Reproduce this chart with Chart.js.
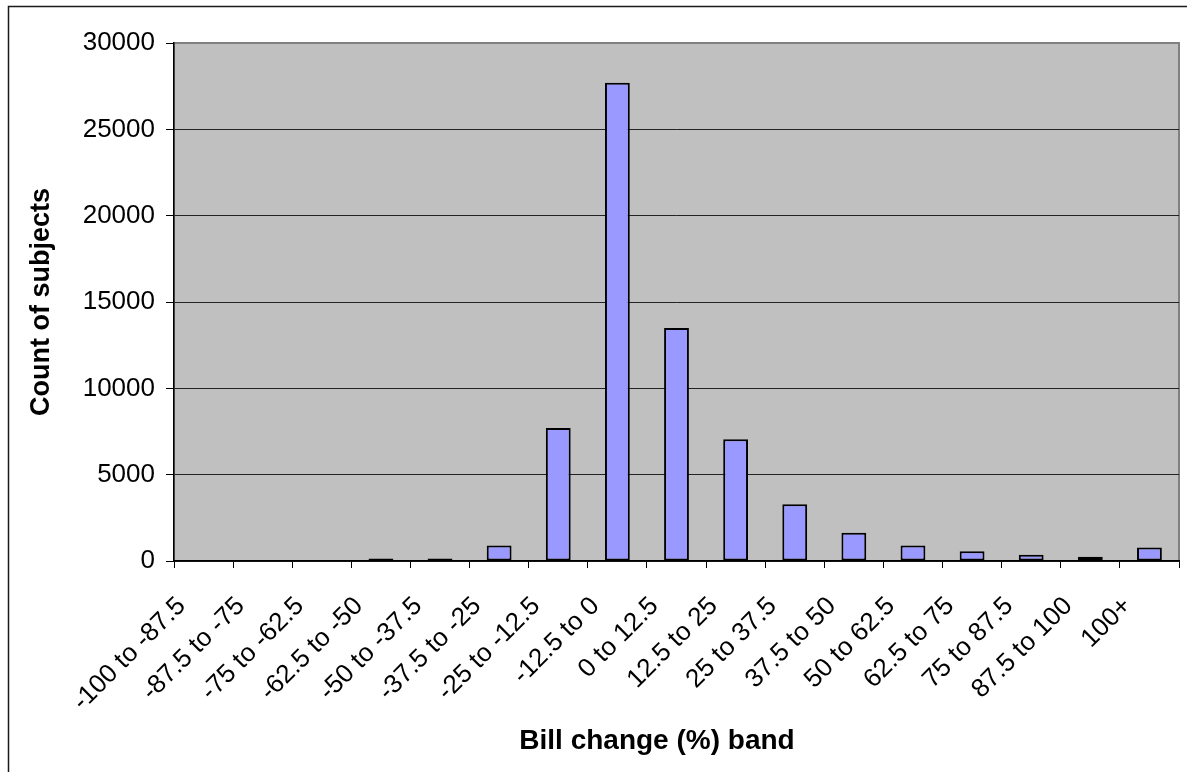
<!DOCTYPE html>
<html>
<head>
<meta charset="utf-8">
<title>Bill change (%) band</title>
<script src="https://cdn.jsdelivr.net/npm/chart.js@4/dist/chart.umd.min.js"></script>
<style>
  html, body { margin: 0; padding: 0; background: #fff; }
  canvas { display: block; }
</style>
</head>
<body>
<canvas id="chart" width="1187" height="772"></canvas>
<script>
// Bill change bands (%) and the number of subjects falling in each
const bands = [
  '-100 to -87.5', '-87.5 to -75', '-75 to -62.5', '-62.5 to -50',
  '-50 to -37.5', '-37.5 to -25', '-25 to -12.5', '-12.5 to 0',
  '0 to 12.5', '12.5 to 25', '25 to 37.5', '37.5 to 50',
  '50 to 62.5', '62.5 to 75', '75 to 87.5', '87.5 to 100', '100+'
];
const subjectCounts = [
  0, 0, 0, 150,
  140, 900, 7700, 27700,
  13500, 7050, 3280, 1640,
  900, 570, 360, 245, 785
];
const countTicks = [0, 5000, 10000, 15000, 20000, 25000, 30000];

const xTitle = 'Bill change (%) band';
const yTitle = 'Count of subjects';
const FONT = '"Liberation Sans", Arial, sans-serif';

// Outer frame, grey plot area and its border
const framePlugin = {
  id: 'frame',
  beforeDraw(chart) {
    const { ctx, chartArea: a, width, height } = chart;
    ctx.save();
    ctx.fillStyle = '#ffffff';
    ctx.fillRect(0, 0, width, height);
    ctx.strokeStyle = '#1a1a1a';
    ctx.lineWidth = 1.5;
    ctx.beginPath();
    ctx.moveTo(8.5, height);
    ctx.lineTo(8.5, 6.5);
    ctx.lineTo(width, 6.5);
    ctx.stroke();
    ctx.fillStyle = '#c0c0c0';
    ctx.fillRect(a.left, a.top, a.right - a.left, a.bottom - a.top);
    ctx.strokeStyle = '#808080';
    ctx.lineWidth = 2;
    ctx.strokeRect(a.left, a.top, a.right - a.left, a.bottom - a.top);
    ctx.restore();
  },
  afterDraw(chart) {
    // category axis title, sitting slightly left of the plot centre
    const { ctx } = chart;
    ctx.save();
    ctx.font = 'bold 28px ' + FONT;
    ctx.fillStyle = '#000';
    ctx.textAlign = 'center';
    ctx.textBaseline = 'middle';
    ctx.fillText(xTitle, 657, 741);
    ctx.restore();
  }
};

new Chart(document.getElementById('chart'), {
  type: 'bar',
  data: {
    labels: bands,
    datasets: [{
      label: yTitle,
      data: subjectCounts,
      backgroundColor: '#9999ff',
      borderColor: '#000000',
      borderWidth: 2,
      borderSkipped: false,
      barPercentage: 0.42,
      categoryPercentage: 1.0
    }]
  },
  options: {
    responsive: false,
    devicePixelRatio: 1,
    animation: false,
    layout: { padding: { top: 43, right: 8, left: 0, bottom: 0 } },
    plugins: {
      legend: { display: false },
      tooltip: { enabled: false },
      title: { display: false }
    },
    scales: {
      x: {
        offset: true,
        grid: {
          offset: true,
          drawOnChartArea: false,
          drawTicks: true,
          tickLength: 7,
          tickColor: '#000',
          lineWidth: 1
        },
        border: { display: true, color: '#000', width: 1.5 },
        ticks: {
          autoSkip: false,
          minRotation: 45,
          maxRotation: 45,
          labelOffset: -22,
          padding: 23,
          color: '#000',
          font: { family: FONT, size: 26 }
        },
        afterFit(scale) {
          scale.height = 211;
          scale.paddingLeft = 0;
          scale.paddingRight = 0;
        }
      },
      y: {
        min: countTicks[0],
        max: countTicks[countTicks.length - 1],
        afterBuildTicks(scale) {
          scale.ticks = countTicks.map(v => ({ value: v }));
        },
        grid: {
          color: c => (c.tick && c.tick.value === countTicks[countTicks.length - 1]) ? '#808080' : '#222',
          lineWidth: 1,
          tickLength: 8,
          tickColor: '#000'
        },
        border: { display: true, color: '#000', width: 1.5 },
        ticks: {
          padding: 11,
          color: '#000',
          font: { family: FONT, size: 26 },
          callback: v => String(v)
        },
        title: {
          display: true,
          text: yTitle,
          color: '#000',
          font: { family: FONT, size: 27, weight: 'bold' },
          padding: { top: 25, bottom: 0 }
        },
        afterFit(scale) {
          scale.width = 174;
          scale.paddingTop = 0;
          scale.paddingBottom = 0;
        }
      }
    }
  },
  plugins: [framePlugin]
});
</script>
</body>
</html>
